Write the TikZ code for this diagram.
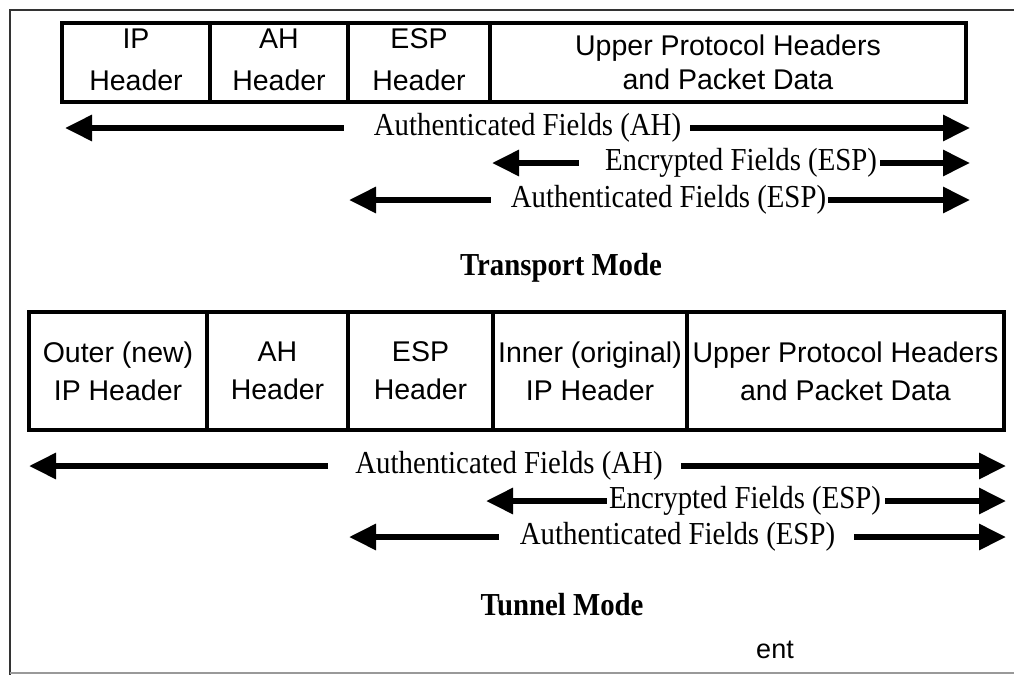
\documentclass[tikz,border=0pt]{standalone}
\usepackage{fontspec}
\setmainfont[FakeStretch=0.9]{Liberation Serif}
\newfontfamily\headfont{Liberation Sans}
\usetikzlibrary{arrows.meta}

\begin{document}
\begin{tikzpicture}[x=1pt, y=-1pt,
    field/.style={draw, line width=4.5pt, inner sep=0pt, outer sep=0pt, anchor=west, align=center},
    wide/.style={font=\headfont\fontsize{28.5}{42}\selectfont, text depth=6pt},
    tight/.style={font=\headfont\fontsize{28.5}{34}\selectfont},
    tunnel/.style={font=\headfont\fontsize{28.5}{38}\selectfont},
    fieldlabel/.style={inner sep=0pt, font=\fontsize{32}{36}\selectfont},
    modelabel/.style={inner sep=0pt, font=\fontsize{32}{36}\selectfont\bfseries},
    fieldspan/.style={line width=6pt, -{Triangle[length=27pt, width=25pt]}}]
    \useasboundingbox (0,0) rectangle (1014,675);

    % frame
    \draw[line width=2pt, black!80] (1014,10) -- (10,10) -- (10,675);
    \draw[line width=1.5pt, black!40] (10,673) -- (1014,673);

    % transport mode packet
    \node(t_ip)[field, wide, minimum width=148pt, minimum height=79pt] at (62,62.5) {IP\\Header};
    \node(t_ah)[field, wide, minimum width=138pt, minimum height=79pt] at (210,62.5) {AH\\Header};
    \node(t_esp)[field, wide, minimum width=142pt, minimum height=79pt] at (348,62.5) {ESP\\Header};
    \node(t_data)[field, tight, minimum width=476pt, minimum height=79pt] at (490,62.5) {Upper Protocol Headers\\and Packet Data};

    % transport mode fields
    \coordinate(t_ah_l) at (65,128);
    \coordinate(t_ah_r) at (970,128);
    \node(t_ah_txt)[fieldlabel] at (527.5,128) {Authenticated Fields (AH)};
    \draw[fieldspan, shorten <=30pt] (t_ah_txt) -- (t_ah_l);
    \draw[fieldspan, shorten <=9pt] (t_ah_txt) -- (t_ah_r);

    \coordinate(t_enc_l) at (492,163);
    \coordinate(t_enc_r) at (970,163);
    \node(t_enc_txt)[fieldlabel] at (741,163) {Encrypted Fields (ESP)};
    \draw[fieldspan, shorten <=26pt] (t_enc_txt) -- (t_enc_l);
    \draw[fieldspan, shorten <=3pt] (t_enc_txt) -- (t_enc_r);

    \coordinate(t_esp_l) at (349,200);
    \coordinate(t_esp_r) at (970,200);
    \node(t_esp_txt)[fieldlabel] at (668.5,200) {Authenticated Fields (ESP)};
    \draw[fieldspan, shorten <=20pt] (t_esp_txt) -- (t_esp_l);
    \draw[fieldspan, shorten <=2pt] (t_esp_txt) -- (t_esp_r);

    \node(t_mode)[modelabel] at (561,268) {Transport Mode};

    % tunnel mode packet
    \node(u_ip)[field, tunnel, minimum width=178pt, minimum height=118pt] at (29,371) {Outer (new)\\IP Header};
    \node(u_ah)[field, tunnel, minimum width=141pt, minimum height=118pt] at (207,371) {AH\\Header};
    \node(u_esp)[field, tunnel, minimum width=145pt, minimum height=118pt] at (348,371) {ESP\\Header};
    \node(u_inner)[field, tunnel, minimum width=194pt, minimum height=118pt] at (493,371) {Inner (original)\\IP Header};
    \node(u_data)[field, tunnel, minimum width=317pt, minimum height=118pt] at (687,371) {Upper Protocol Headers\\and Packet Data};

    % tunnel mode fields
    \coordinate(u_ah_l) at (29,466);
    \coordinate(u_ah_r) at (1006,466);
    \node(u_ah_txt)[fieldlabel] at (509,466) {Authenticated Fields (AH)};
    \draw[fieldspan, shorten <=27pt] (u_ah_txt) -- (u_ah_l);
    \draw[fieldspan, shorten <=18pt] (u_ah_txt) -- (u_ah_r);

    \coordinate(u_enc_l) at (486,501);
    \coordinate(u_enc_r) at (1006,501);
    \node(u_enc_txt)[fieldlabel] at (745,501) {Encrypted Fields (ESP)};
    \draw[fieldspan, shorten <=2pt] (u_enc_txt) -- (u_enc_l);
    \draw[fieldspan, shorten <=4pt] (u_enc_txt) -- (u_enc_r);

    \coordinate(u_esp_l) at (349,537);
    \coordinate(u_esp_r) at (1006,537);
    \node(u_esp_txt)[fieldlabel] at (677.5,537) {Authenticated Fields (ESP)};
    \draw[fieldspan, shorten <=21pt] (u_esp_txt) -- (u_esp_l);
    \draw[fieldspan, shorten <=19pt] (u_esp_txt) -- (u_esp_r);

    \node(u_mode)[modelabel] at (562,605) {Tunnel Mode};

    \node(cut)[inner sep=0pt, font=\headfont\fontsize{27}{32}\selectfont] at (775,650) {ent};
\end{tikzpicture}
\end{document}
